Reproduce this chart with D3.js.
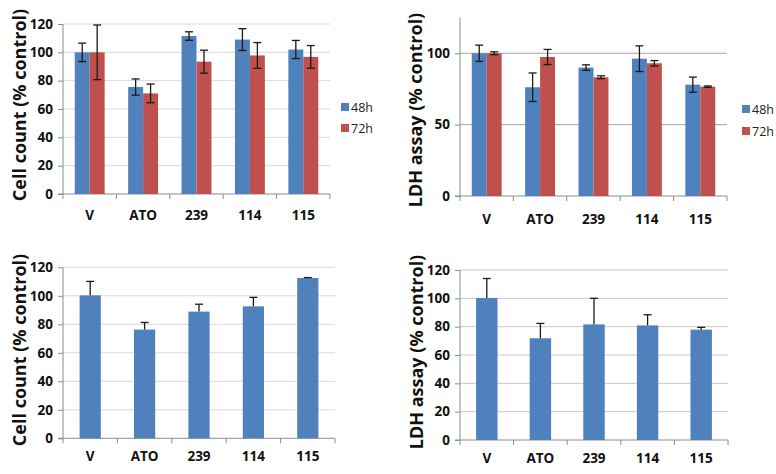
<!DOCTYPE html>
<html>
<head>
<meta charset="utf-8">
<script src="https://cdn.jsdelivr.net/npm/d3@7"></script>
<style>
  body { margin: 0; background: #fff; }
  svg { display: block; }
  text { font-family: "Open Sans", "Noto Sans", sans-serif; }
</style>
</head>
<body>
<svg id="chart" width="776" height="474"></svg>
<script>
// ---- data ----
const categories = ["V", "ATO", "239", "114", "115"];
const seriesNames = ["48h", "72h"];

// Top-left: Cell count, 48h / 72h
const cellCount48 = [100, 75.5, 111.5, 109, 102];
const cellCount48Err = [6.5, 5.7, 3, 7.7, 6.4];
const cellCount72 = [100, 71, 93.4, 97.8, 96.8];
const cellCount72Err = [19.3, 6.6, 8.1, 9.1, 8];

// Top-right: LDH assay, 48h / 72h
const ldh48 = [100, 76.2, 90, 96.2, 78];
const ldh48Err = [5.7, 10, 1.9, 9, 5.3];
const ldh72 = [100, 97.4, 83.2, 93, 76.6];
const ldh72Err = [1, 5.3, 1, 1.9, 0.5];

// Bottom-left: Cell count, single series
const cellCountSingle = [100.3, 76.3, 88.9, 92.6, 112.5];
const cellCountSingleErr = [9.8, 5, 5.2, 6.3, 0.3];

// Bottom-right: LDH assay, single series
const ldhSingle = [100.2, 71.8, 81.6, 80.9, 77.9];
const ldhSingleErr = [13.8, 10.5, 18.4, 7.5, 1.6];

const yTicks120 = [0, 20, 40, 60, 80, 100, 120];
const yTicks125 = [0, 50, 100];

const colors = ["#4f81bd", "#c0504d"];

const svg = d3.select("#chart");

function panel(opts) {
  const g = svg.append("g");
  const x = d3.scaleBand().domain(categories).range([opts.x0, opts.x1]);
  const y = d3.scaleLinear().domain([0, opts.yMax]).range([opts.yBottom, opts.yTop]);

  // gridlines
  g.selectAll("line.grid").data(opts.ticks.filter(t => t > 0)).join("line")
    .attr("x1", opts.x0).attr("x2", opts.x1)
    .attr("y1", d => y(d)).attr("y2", d => y(d))
    .attr("stroke", opts.gridColor).attr("stroke-width", 1);

  // y axis
  const yAxis = d3.axisLeft(y).tickValues(opts.ticks).tickSize(5).tickPadding(5).tickFormat(d3.format("d"));
  const ya = g.append("g").attr("transform", `translate(${opts.x0},0)`).call(yAxis);
  ya.select(".domain").attr("stroke", "#8c8c8c").attr("d", `M-5,${y(0)}H0V${opts.yTop}`);
  ya.selectAll(".tick line").attr("stroke", "#8c8c8c");
  ya.selectAll(".tick text").attr("font-size", 13.5).attr("font-weight", "bold").attr("fill", "#111")
    .attr("font-family", "'Open Sans', sans-serif");

  // x axis baseline + boundary ticks
  g.append("line").attr("x1", opts.x0).attr("x2", opts.x1)
    .attr("y1", y(0)).attr("y2", y(0)).attr("stroke", "#8c8c8c");
  const bounds = categories.map(c => x(c)).concat([opts.x1]);
  g.selectAll("line.bt").data(bounds).join("line")
    .attr("x1", d => d).attr("x2", d => d)
    .attr("y1", y(0)).attr("y2", y(0) + 5).attr("stroke", "#8c8c8c");
  g.selectAll("text.cat").data(categories).join("text")
    .attr("x", d => x(d) + x.bandwidth() / 2)
    .attr("y", y(0) + opts.catOffset)
    .attr("text-anchor", "middle")
    .attr("font-size", 13.5).attr("font-weight", "bold").attr("fill", "#111")
    .text(d => d);

  // bars
  const n = opts.series.length;
  const bw = x.bandwidth() * opts.barFrac;
  opts.series.forEach((s, si) => {
    const off = (x.bandwidth() - bw * n) / 2 + si * bw;
    g.selectAll(null).data(s.values).join("rect")
      .attr("x", (d, i) => x(categories[i]) + off)
      .attr("y", d => y(d))
      .attr("width", bw)
      .attr("height", d => y(0) - y(d))
      .attr("fill", colors[si]);
    // error bars
    const eg = g.append("g").attr("stroke", "#1a1a1a").attr("stroke-width", 1.3);
    s.values.forEach((v, i) => {
      const cx = x(categories[i]) + off + bw / 2;
      const top = y(v + s.err[i]);
      const bot = opts.bothSides ? y(v - s.err[i]) : y(v);
      eg.append("line").attr("x1", cx).attr("x2", cx).attr("y1", top).attr("y2", bot);
      eg.append("line").attr("x1", cx - 4).attr("x2", cx + 4).attr("y1", top).attr("y2", top);
      if (opts.bothSides) {
        eg.append("line").attr("x1", cx - 4).attr("x2", cx + 4).attr("y1", bot).attr("y2", bot);
      }
    });
  });

  // y title
  g.append("text")
    .attr("transform", `translate(${opts.titleX},${opts.titleY}) rotate(-90)`)
    .attr("text-anchor", "middle")
    .attr("dominant-baseline", "central")
    .attr("font-size", 18).attr("font-weight", "bold").attr("fill", "#111")
    .text(opts.title);

  // legend
  if (opts.legend) {
    opts.series.forEach((s, si) => {
      const ly = opts.legend.y + si * opts.legend.dy;
      g.append("rect").attr("x", opts.legend.x).attr("y", ly - 4).attr("width", 8).attr("height", 8)
        .attr("fill", colors[si]);
      g.append("text").attr("x", opts.legend.x + 10).attr("y", ly)
        .attr("dominant-baseline", "central")
        .attr("font-size", 12.5).attr("fill", "#222").text(seriesNames[si]);
    });
  }
}

panel({
  x0: 63, x1: 330, yTop: 24, yBottom: 194, yMax: 120, ticks: yTicks120,
  gridColor: "#d9d9d9", catOffset: 26, barFrac: 0.28, bothSides: true,
  series: [{ values: cellCount48, err: cellCount48Err }, { values: cellCount72, err: cellCount72Err }],
  title: "Cell count (% control)", titleX: 19, titleY: 105,
  legend: { x: 341, y: 107, dy: 21 }
});

panel({
  x0: 460, x1: 727, yTop: 17.6, yBottom: 196, yMax: 125, ticks: yTicks125,
  gridColor: "#a6a6a6", catOffset: 28, barFrac: 0.28, bothSides: true,
  series: [{ values: ldh48, err: ldh48Err }, { values: ldh72, err: ldh72Err }],
  title: "LDH assay (% control)", titleX: 415, titleY: 110,
  legend: { x: 742, y: 109, dy: 22 }
});

panel({
  x0: 63, x1: 335, yTop: 267.3, yBottom: 438.3, yMax: 120, ticks: yTicks120,
  gridColor: "#d9d9d9", catOffset: 23, barFrac: 0.39, bothSides: false,
  series: [{ values: cellCountSingle, err: cellCountSingleErr }],
  title: "Cell count (% control)", titleX: 19, titleY: 350,
  legend: null
});

panel({
  x0: 460, x1: 728, yTop: 270, yBottom: 440, yMax: 120, ticks: yTicks120,
  gridColor: "#c8c8c8", catOffset: 23, barFrac: 0.4, bothSides: false,
  series: [{ values: ldhSingle, err: ldhSingleErr }],
  title: "LDH assay (% control)", titleX: 416, titleY: 352,
  legend: null
});
</script>
</body>
</html>
